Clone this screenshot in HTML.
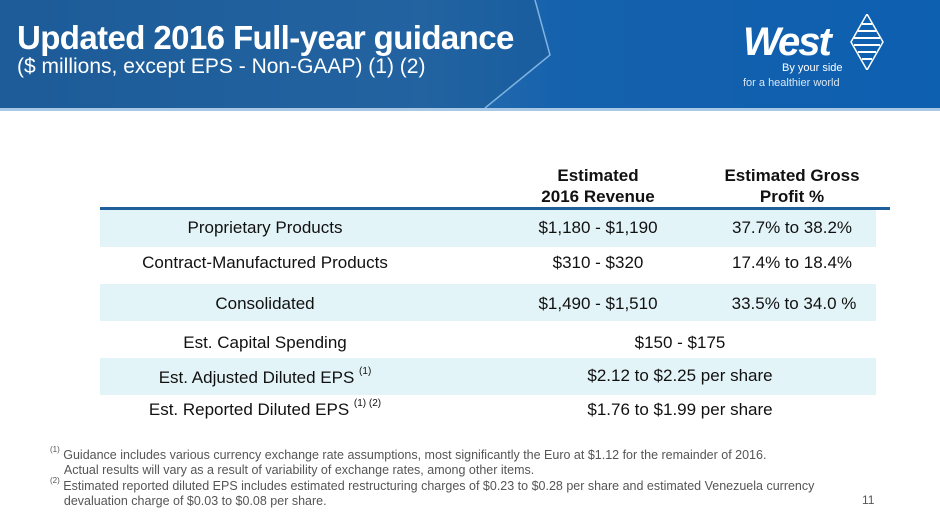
<!DOCTYPE html>
<html><head><meta charset="utf-8"><style>
*{margin:0;padding:0;box-sizing:border-box}
body{width:940px;height:528px;position:relative;background:#fff;font-family:"Liberation Sans",Arial,sans-serif;overflow:hidden}
.abs{position:absolute}
.hdr{left:0;top:0;width:940px;height:108px;background:linear-gradient(90deg,#1f5f9c 0%,#2b6fae 45%,#1561ad 60%,#0d5fb0 100%)}
.line{left:0;top:108px;width:940px;height:3px;background:#a9c8e6}
.t{color:#fff;left:17px}
.row{left:100px;width:776px;height:37px}
.band{background:#e3f4f8}
.c{position:absolute;text-align:center;font-size:17px;color:#111;white-space:nowrap}
sup{font-size:10px;position:relative;top:-2px}
.fn{font-size:12.5px;color:#555;line-height:15px;white-space:nowrap}
</style></head><body>
<div class="abs hdr">
<svg width="940" height="108" style="position:absolute;left:0;top:0">
<polygon points="0,0 535,0 550,55 485,108 0,108" fill="#1c5a96" opacity="0.55"/>
<polyline points="535,0 550,55 485,108" fill="none" stroke="#7fb3e0" stroke-width="1.5"/>
</svg>
</div>
<div class="abs line"></div>
<div class="abs t" style="top:19px;font-size:33px;font-weight:bold;letter-spacing:-0.6px">Updated 2016 Full-year guidance</div>
<div class="abs t" style="top:55px;font-size:21px">($ millions, except EPS - Non-GAAP) (1) (2)</div>
<div class="abs" style="left:743px;top:20px;color:#fff;font-size:40px;font-weight:bold;font-style:italic;letter-spacing:-2px">West</div>
<svg class="abs" style="left:850px;top:14px" width="34" height="56">
<polygon points="17,0 33,28 17,56 1,28" fill="none" stroke="#fff" stroke-width="1.5"/>
<g stroke="#fff" stroke-width="2"><line x1="12" y1="10" x2="22" y2="10"/><line x1="8" y1="17" x2="26" y2="17"/><line x1="4" y1="24" x2="30" y2="24"/><line x1="4" y1="31" x2="30" y2="31"/><line x1="8" y1="38" x2="26" y2="38"/><line x1="12" y1="45" x2="22" y2="45"/></g></svg>
<div class="abs" style="left:782px;top:62px;color:#fff;font-size:11px">By your side</div>
<div class="abs" style="left:743px;top:77px;color:#d8e6f3;font-size:11px">for a healthier world</div>

<div class="c" style="left:540px;width:116px;top:165px;font-weight:bold;line-height:21px">Estimated<br>2016 Revenue</div>
<div class="c" style="left:712px;width:160px;top:165px;font-weight:bold;line-height:21px">Estimated Gross<br>Profit %</div>
<div class="abs" style="left:100px;top:207px;width:790px;height:3px;background:#1f5f9c"></div>

<div class="abs row band" style="top:210px">
<div class="c" style="left:0;width:330px;top:8px">Proprietary Products</div>
<div class="c" style="left:430px;width:136px;top:8px">$1,180 - $1,190</div>
<div class="c" style="left:612px;width:160px;top:8px">37.7% to 38.2%</div></div>
<div class="abs row" style="top:247px">
<div class="c" style="left:0;width:330px;top:6px">Contract-Manufactured Products</div>
<div class="c" style="left:430px;width:136px;top:6px">$310 - $320</div>
<div class="c" style="left:612px;width:160px;top:6px">17.4% to 18.4%</div></div>
<div class="abs row band" style="top:284px">
<div class="c" style="left:0;width:330px;top:10px">Consolidated</div>
<div class="c" style="left:430px;width:136px;top:10px">$1,490 - $1,510</div>
<div class="c" style="left:612px;width:164px;top:10px">33.5% to 34.0 %</div></div>
<div class="abs row" style="top:321px">
<div class="c" style="left:0;width:330px;top:12px">Est. Capital Spending</div>
<div class="c" style="left:430px;width:300px;top:12px">$150 - $175</div></div>
<div class="abs row band" style="top:358px">
<div class="c" style="left:0;width:330px;top:10px">Est. Adjusted Diluted EPS <sup>(1)</sup></div>
<div class="c" style="left:430px;width:300px;top:8px">$2.12 to $2.25 per share</div></div>
<div class="abs row" style="top:395px">
<div class="c" style="left:0;width:330px;top:5px">Est. Reported Diluted EPS <sup>(1) (2)</sup></div>
<div class="c" style="left:430px;width:300px;top:5px">$1.76 to $1.99 per share</div></div>

<div class="abs fn" style="left:50px;top:444px"><sup style="font-size:8px">(1)</sup> Guidance includes various currency exchange rate assumptions, most significantly the Euro at $1.12 for the remainder of 2016.<br>&nbsp;&nbsp;&nbsp;&nbsp;Actual results will vary as a result of variability of exchange rates, among other items.</div>
<div class="abs fn" style="left:50px;top:475px"><sup style="font-size:8px">(2)</sup> Estimated reported diluted EPS includes estimated restructuring charges of $0.23 to $0.28 per share and estimated Venezuela currency<br>&nbsp;&nbsp;&nbsp;&nbsp;devaluation charge of $0.03 to $0.08 per share.</div>
<div class="abs" style="left:862px;top:493px;font-size:12px;color:#555">11</div>
</body></html>
